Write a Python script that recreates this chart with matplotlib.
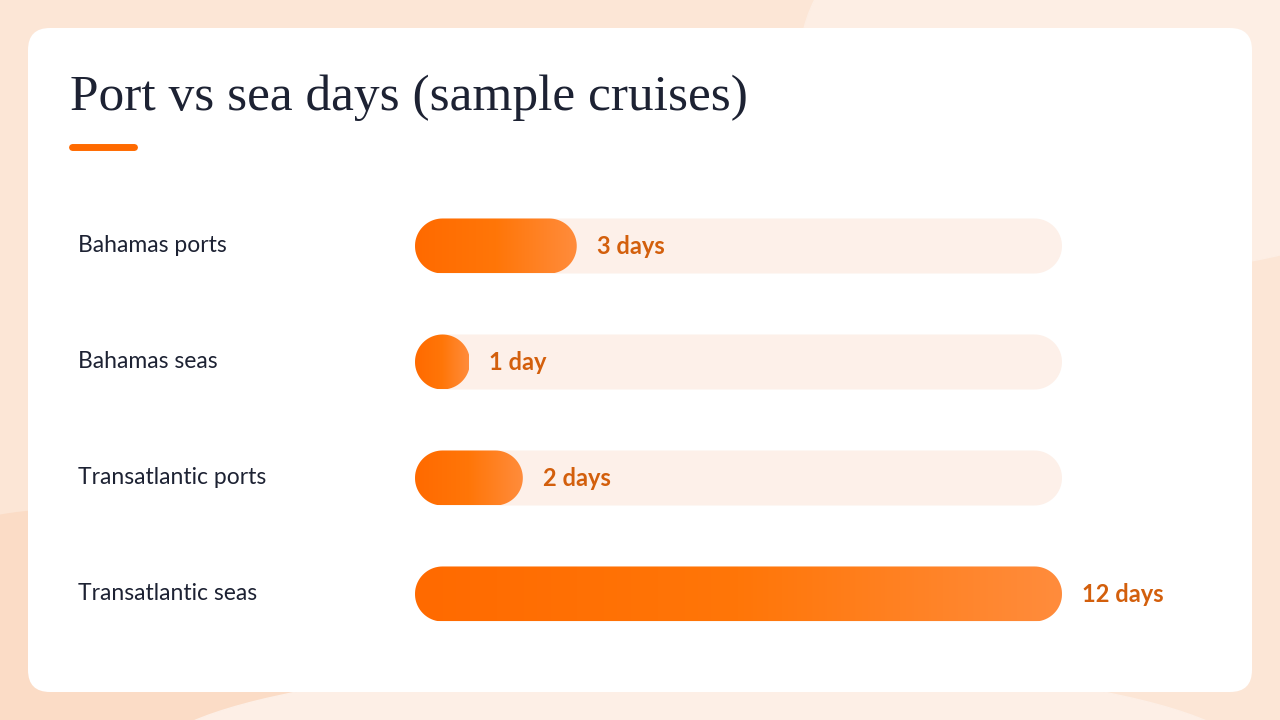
import numpy as np
import matplotlib.pyplot as plt
from matplotlib.patches import FancyBboxPatch, Ellipse, Polygon
from matplotlib.colors import LinearSegmentedColormap
from matplotlib.transforms import blended_transform_factory

categories = ["Bahamas ports", "Bahamas seas", "Transatlantic ports", "Transatlantic seas"]
days = [3, 1, 2, 12]
labels = ["3 days", "1 day", "2 days", "12 days"]
max_days = 12

fig = plt.figure(figsize=(12.8, 7.2), dpi=100)
fig.patch.set_facecolor('#fce6d6')

# background + card
bg = fig.add_axes([0, 0, 1, 1])
bg.set_xlim(0, 1280)
bg.set_ylim(720, 0)
bg.axis('off')
bg.add_patch(Ellipse((1150, 60), 700, 420, color='#fdeee4', zorder=0))
bg.add_patch(Ellipse((60, 690), 500, 360, color='#fbdcc6', zorder=0))
bg.add_patch(Ellipse((700, 760), 1100, 200, color='#fdefe6', zorder=0))
bg.add_patch(FancyBboxPatch((28, 28), 1224, 664, boxstyle='round,pad=0,rounding_size=22',
                            fc='white', ec='none', zorder=1))
bg.text(70, 98, "Port vs sea days (sample cruises)", fontsize=37, family='Liberation Serif',
        color='#1d2233', va='center', ha='left', zorder=2)
bg.plot([72, 134], [147, 147], color='#ff6a00', lw=5, solid_capstyle='round', zorder=2)

# bars
ax = fig.add_axes([415 / 1280, 1 - 652 / 720, 647 / 1280, 464 / 720])
ax.set_xlim(0, max_days)
ax.set_ylim(len(categories) - 0.5, -0.5)
ax.axis('off')

px_x = max_days / 647.0
px_y = 4 / 464.0
h = 55 * px_y
rx = 27.5 * px_x
ry = h / 2
cmap = LinearSegmentedColormap.from_list('o', ['#ff6a00', '#ff7608', '#ff8c3c'])
grad = np.linspace(0, 1, 256).reshape(1, -1)
trans = blended_transform_factory(ax.transAxes, ax.transData)


def pill(x1, yc):
    # x1: bar end in days; ends are half ellipses (circles on screen)
    x1 = max(x1, 2 * rx)
    t = np.linspace(np.pi / 2, 3 * np.pi / 2, 40)
    left = np.column_stack([rx + rx * np.cos(t), yc + ry * np.sin(t)])
    t2 = np.linspace(-np.pi / 2, np.pi / 2, 40)
    right = np.column_stack([x1 - rx + rx * np.cos(t2), yc + ry * np.sin(t2)])
    return np.vstack([left, right])


for i, (cat, v, lab) in enumerate(zip(categories, days, labels)):
    ax.add_patch(Polygon(pill(max_days, i), closed=True, fc='#fdf0e9', ec='none', zorder=1))
    bar = Polygon(pill(v, i), closed=True, fc='none', ec='none', zorder=2)
    ax.add_patch(bar)
    im = ax.imshow(grad, cmap=cmap, extent=(0, v, i + h / 2, i - h / 2), aspect='auto', zorder=2)
    im.set_clip_path(bar)
    ax.text(v + 20 * px_x, i, lab, fontsize=17, fontweight='bold', family='Lato',
            color='#d35f0c', va='center', ha='left')
    ax.text((78 - 415) / 647, i, cat, transform=trans, fontsize=16.5, family='Lato',
            color='#1d2233', va='center', ha='left')

ax.set_xlim(0, max_days)
ax.set_ylim(len(categories) - 0.5, -0.5)
fig.savefig('out.png', dpi=100)
